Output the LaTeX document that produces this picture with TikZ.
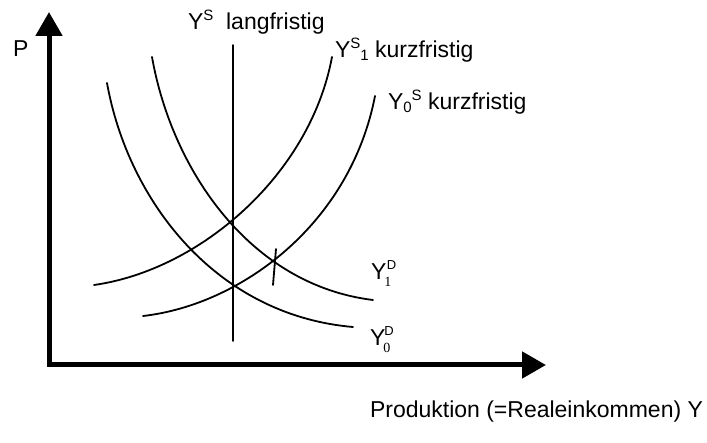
\documentclass[tikz,border=0pt]{standalone}
\usepackage{fontspec}
\setmainfont{Liberation Sans}
\newfontfamily\serifsub{Liberation Serif}
\usetikzlibrary{arrows.meta}
\tikzset{
  axis/.style={line width=5pt, line join=miter,
    {Triangle[length=24pt,width=26pt]}-{Triangle[length=24pt,width=26pt]}},
  curve/.style={line width=1.8pt, line cap=round},
  lbl/.style={anchor=base west, inner sep=0pt, outer sep=0pt,
    font=\fontsize{23}{27}\selectfont},
}
\newcommand{\supS}[1]{\raisebox{9pt}{\fontsize{15}{15}\selectfont #1}}
\newcommand{\subN}[1]{\raisebox{-3pt}{\fontsize{15}{15}\selectfont #1}}
\begin{document}
\begin{tikzpicture}[x=1pt,y=-1pt]
\useasboundingbox (0,0) rectangle (707,443);
% axes
\coordinate (ytip) at (49,12);
\coordinate (O) at (49,365);
\coordinate (xtip) at (546,365);
\draw[axis] (xtip) -- (O) -- (ytip);
% long-run supply
\coordinate (ls1) at (233,45);
\coordinate (ls2) at (233,341);
\draw[curve] (ls1) -- (ls2);
% demand curves
\coordinate (d0a) at (107,83);  \coordinate (d0b) at (353,327);
\coordinate (d1a) at (152,57);  \coordinate (d1b) at (373,300);
\draw[curve] (d0a) .. controls (128,200) and (215,315) .. (d0b);
\draw[curve] (d1a) .. controls (172,170) and (250,285) .. (d1b);
% short-run supply curves
\coordinate (s1a) at (94,285);  \coordinate (s1b) at (332,57);
\coordinate (s0a) at (143,316); \coordinate (s0b) at (375,96);
\draw[curve] (s1a) .. controls (200,270) and (310,175) .. (s1b);
\draw[curve] (s0a) .. controls (240,305) and (350,225) .. (s0b);
% tick
\coordinate (t1) at (276,249);
\coordinate (t2) at (273,285);
\draw[curve] (t1) -- (t2);
% labels
\node[lbl] (P) at (13,57) {P};
\node[lbl] (lang) at (188,30) {Y\supS{S}~~langfristig};
\node[lbl] (ks1) at (335,58) {Y\supS{S}\subN{1} kurzfristig};
\node[lbl] (ks0) at (388,110) {Y\subN{0}\supS{S} kurzfristig};
\node[lbl] (yd1) at (371,280) {Y\makebox[0pt][l]{\hspace{0.5pt}\raisebox{10pt}{\fontsize{13}{13}\selectfont D}}\hspace{-2pt}\raisebox{-7pt}{\fontsize{14}{14}\selectfont\serifsub 1}};
\node[lbl] (yd0) at (370,346) {Y\makebox[0pt][l]{\hspace{-1pt}\raisebox{10pt}{\fontsize{13}{13}\selectfont D}}\hspace{-2pt}\raisebox{-7pt}{\fontsize{14}{14}\selectfont\serifsub 0}};
\node[lbl] (prod) at (370,418) {Produktion (=Realeinkommen) Y};
\end{tikzpicture}
\end{document}
